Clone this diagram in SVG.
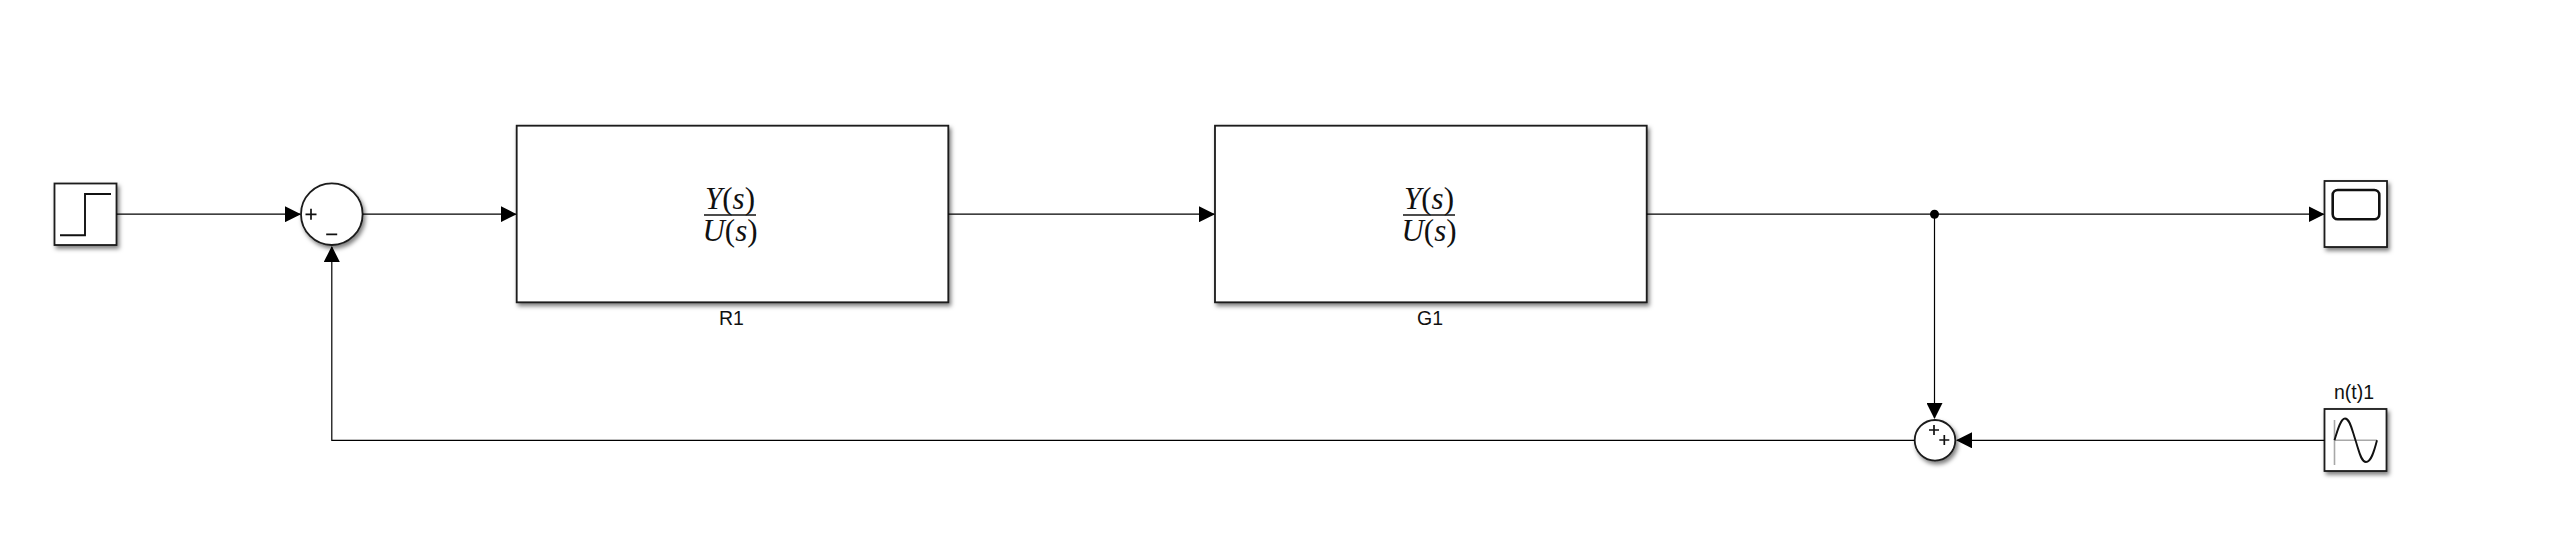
<svg xmlns="http://www.w3.org/2000/svg" width="2566" height="548" viewBox="0 0 2566 548">
<style>
.blk{fill:#fff;stroke:#1a1a1a;stroke-width:1.8;filter:url(#sh)}
.wire{fill:none;stroke:#000;stroke-width:1.2;marker-end:url(#ah)}
.ic{fill:none;stroke:#111;stroke-width:1.9}
.sym{fill:none;stroke:#111;stroke-width:1.7}
.ax{fill:none;stroke:#a8a8a8;stroke-width:1.6}
.lbl{font-family:"Liberation Sans",Arial,sans-serif;font-size:19.5px;fill:#111;text-anchor:middle}
.math{font-family:"Liberation Serif","Times New Roman",serif;font-size:31px;fill:#111;text-anchor:middle}
.it{font-style:italic}
.bar{stroke:#111;stroke-width:1.5}
</style>
<defs>
<filter id="sh" x="-20%" y="-20%" width="140%" height="140%"><feDropShadow dx="2" dy="3" stdDeviation="2" flood-color="#000" flood-opacity="0.5"/></filter>
<marker id="ah" markerUnits="userSpaceOnUse" markerWidth="16" markerHeight="16" refX="15" refY="8" orient="auto"><path d="M0 0L16 8L0 16Z" fill="#000"/></marker>
</defs>
<rect width="2566" height="548" fill="#fff"/>
<g id="step"><rect class="blk" x="54.5" y="183.5" width="62" height="61.5"/><path class="ic" d="M60 235.3H85V194H111"/></g>
<g id="sum1"><circle class="blk" cx="331.8" cy="214.2" r="30.8"/><path class="sym" d="M305.5 214.3h11M311 208.8v11M326.2 234.3h11"/></g>
<g id="R1"><rect class="blk" x="516.7" y="125.7" width="431.6" height="176.6"/>
<text class="math" x="730" y="209"><tspan class="it">Y</tspan>(<tspan class="it">s</tspan>)</text><line class="bar" x1="704" y1="215" x2="756" y2="215"/><text class="math" x="730" y="241"><tspan class="it">U</tspan>(<tspan class="it">s</tspan>)</text>
<text class="lbl" x="731.5" y="325">R1</text></g>
<g id="G1"><rect class="blk" x="1215" y="125.7" width="431.7" height="176.6"/>
<text class="math" x="1429" y="209"><tspan class="it">Y</tspan>(<tspan class="it">s</tspan>)</text><line class="bar" x1="1403" y1="215" x2="1455" y2="215"/><text class="math" x="1429" y="241"><tspan class="it">U</tspan>(<tspan class="it">s</tspan>)</text>
<text class="lbl" x="1430" y="325">G1</text></g>
<g id="scope"><rect class="blk" x="2324.5" y="181" width="62.5" height="66"/><rect x="2332.7" y="190" width="46.6" height="29.3" rx="5" fill="none" stroke="#111" stroke-width="2.6"/></g>
<g id="sum2"><circle class="blk" cx="1935" cy="440.3" r="20.3"/><path class="sym" d="M1929 430h10M1934 425v10M1939.3 440h10M1944.3 435v10"/></g>
<g id="noise"><rect class="blk" x="2324.5" y="409" width="62" height="62"/>
<path class="ax" d="M2334.5 420V465M2334.5 440.3H2377"/>
<path class="ic" d="M2334.5 440.3C2338 428 2341 418.5 2345 418.5C2350 418.5 2352 430 2355.5 440.3C2359 451 2361 462 2366 462C2371 462 2374 452 2377 440.3"/>
<text class="lbl" x="2354" y="399">n(t)1</text></g>
<g id="connectors">
<path class="wire" d="M116.5 214.2H300"/>
<path class="wire" d="M362.6 214.2H515.7"/>
<path class="wire" d="M948.3 214.2H1214"/>
<path class="wire" d="M1646.7 214.2H2323.5"/>
<path class="wire" d="M1934.5 214.2V418"/>
<path class="wire" d="M2324.5 440.3H1957"/>
<path class="wire" d="M1914.7 440.3H331.8V247"/>
<circle cx="1934.5" cy="214.2" r="4.5" fill="#000"/>
</g>
</svg>
